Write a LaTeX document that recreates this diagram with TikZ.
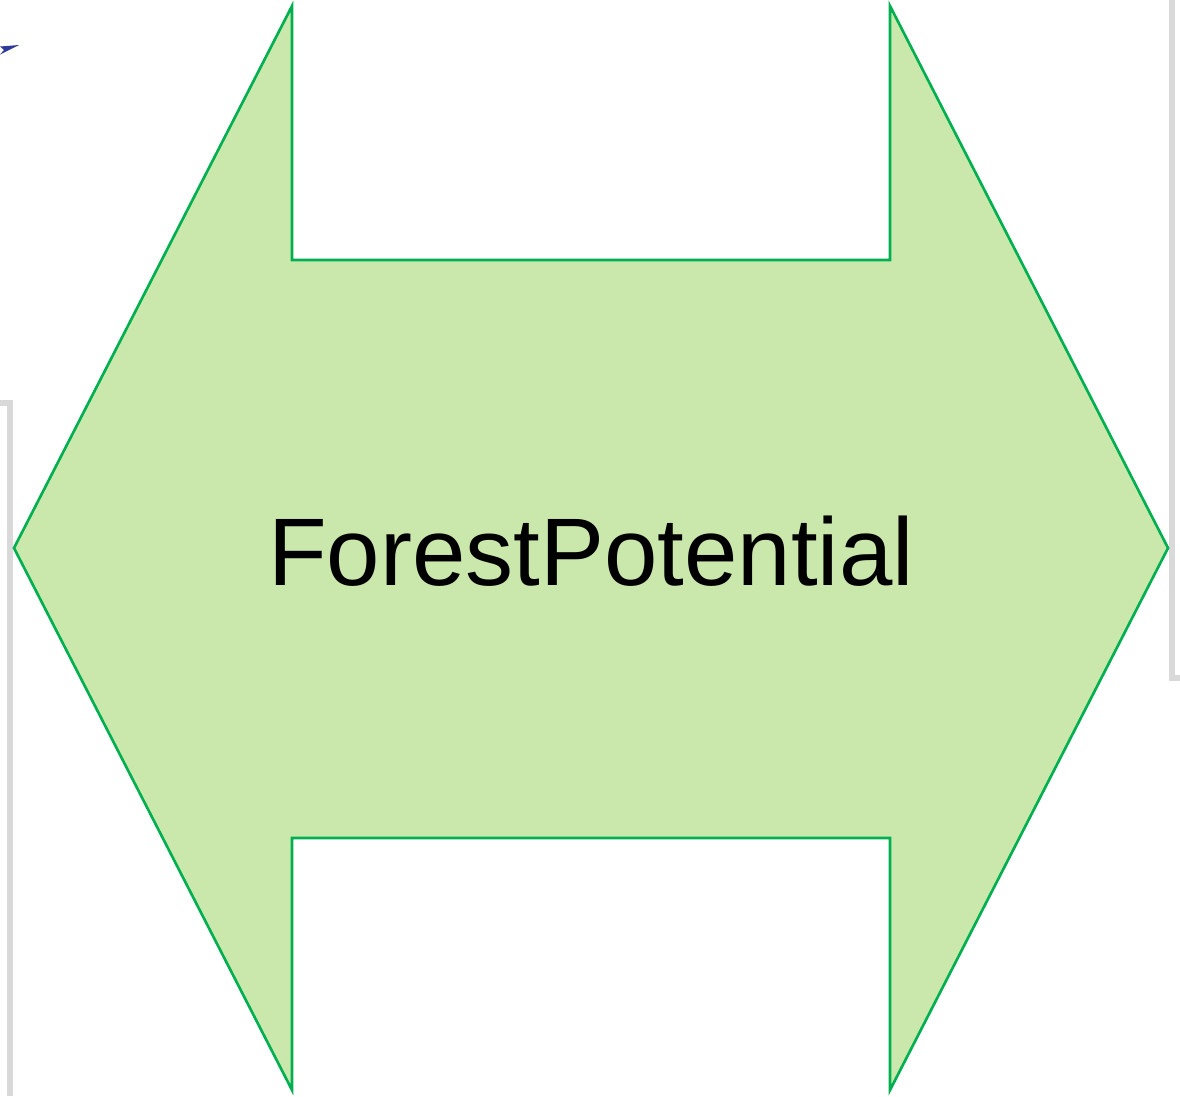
\documentclass[tikz,border=0pt]{standalone}
\usepackage{fontspec}
\setmainfont{Liberation Sans}
\usetikzlibrary{arrows.meta,positioning}
\definecolor{FPFill}{HTML}{CBE8AC}
\definecolor{FPEdge}{HTML}{00B050}
\definecolor{FPFrame}{HTML}{D9D9D9}
\definecolor{FPBlue}{HTML}{2E3A9A}
\tikzset{
  bigarrow/.style={fill=FPFill,draw=FPEdge,line width=.75pt,line join=miter},
  frame/.style={draw=FPFrame,line width=1.6pt},
  title/.style={text=black,font=\fontsize{27.3}{32}\selectfont,inner sep=0pt},
}
\begin{document}
\begin{tikzpicture}[x=.01cm,y=-.01cm]
    \useasboundingbox (0,0) rectangle (1180,1096);
    % neighbouring frames, cut by the edge
    \draw[frame] (0,403) -- (10,403) -- (10,1096);
    \draw[frame] (1172,0) -- (1172,678) -- (1180,678);
    % arrow tip coming in from the left
    \fill[FPBlue] (0,46.5) -- (19,45) -- (0,54.5) -- (4,50) -- cycle;

    % double arrow
    \coordinate (west) at (14,548);
    \coordinate (east) at (1168,548);
    \draw[bigarrow] (west) -- (292,6) -- (292,260) -- (890,260) -- (890,6)
      -- (east) -- (890,1090) -- (890,838) -- (292,838) -- (292,1090) -- cycle;
    \node[title] (fp) at (591,551) {ForestPotential};
\end{tikzpicture}
\end{document}
